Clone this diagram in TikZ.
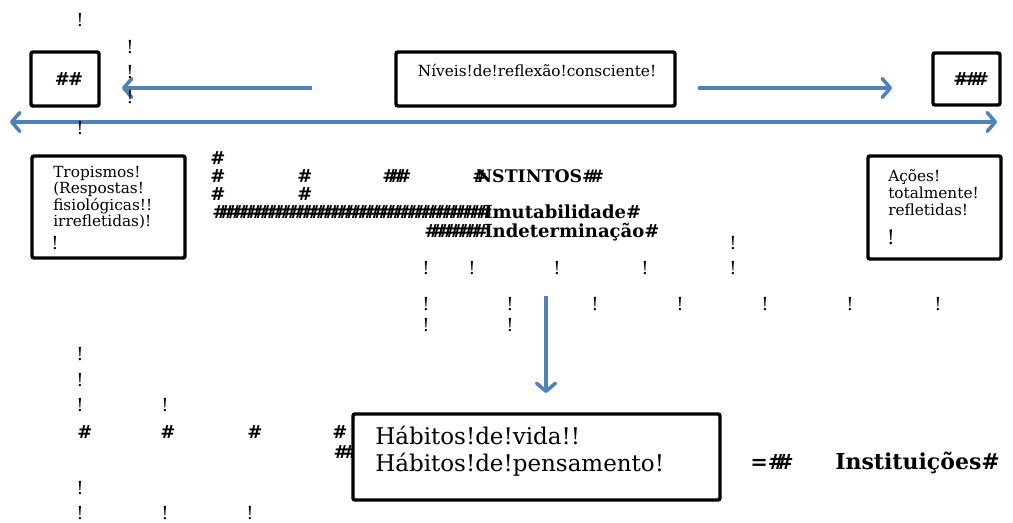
\documentclass[tikz,border=0pt]{standalone}
\usepackage{fontspec}
\setmainfont{DejaVu Serif}
\usetikzlibrary{arrows.meta}
\definecolor{flowblue}{RGB}{79,129,189}
% a run of overlapping hash marks
\newcommand\hashrun[1]{\foreach \k in {1,...,#1}{\#\kern-.45em}}
\tikzset{
  frame/.style={draw=black,line width=2.6pt,rounded corners=1.5pt,fill=white,inner sep=0pt},
  flow/.style={draw=flowblue,line width=2.6pt,-{Straight Barb[length=6pt,width=14pt,round]}},
  flowboth/.style={draw=flowblue,line width=2.6pt,{Straight Barb[length=6pt,width=14pt,round]}-{Straight Barb[length=6pt,width=14pt,round]}},
  flowshade/.style={draw=black,opacity=.15,line width=2.8pt,shift={(1,2.5)}},
  bang/.style={inner sep=0pt,font=\fontsize{13.5pt}{13.5pt}\selectfont},
  hashmark/.style={inner sep=0pt,font=\bfseries\fontsize{13.5pt}{13.5pt}\selectfont},
  boxtext/.style={inner sep=0pt,anchor=base west,align=left},
  rowtext/.style={inner sep=0pt,anchor=base west,font=\bfseries\fontsize{13.5pt}{13.5pt}\selectfont},
}
\begin{document}
\begin{tikzpicture}[x=0.75pt,y=-0.75pt]
\useasboundingbox (0,0) rectangle (1013,523);

% ---- arrow end points ----
\coordinate (backS) at (312,88);  \coordinate (backE) at (122,88);
\coordinate (fwdS)  at (698,88);  \coordinate (fwdE)  at (892,88);
\coordinate (axisL) at (10,122);  \coordinate (axisR) at (997,122);
\coordinate (downS) at (546,296); \coordinate (downE) at (546,393);

% ---- soft shadows under the arrows ----
\draw[flowshade,flow,draw=black] (backS) -- (backE);
\draw[flowshade,flow,draw=black] (fwdS) -- (fwdE);
\draw[flowshade,flowboth,draw=black] (axisL) -- (axisR);
\draw[flowshade,flow,draw=black] (downS) -- (downE);

% ---- blue arrows ----
\draw[flow] (backS) -- (backE);
\draw[flow] (fwdS) -- (fwdE);
\draw[flowboth] (axisL) -- (axisR);
\draw[flow] (downS) -- (downE);

% ---- loose marks, top left ----
\node[bang] (t1) at (80,20) {!};
\node[bang] (t2) at (130,47) {!};
\node[bang] (t3) at (130,72) {!};
\node[bang] (t4) at (130,97) {!};
\node[bang] (t5) at (80,128) {!};

% ---- central rows ----
\node[hashmark] (h1) at (218,158) {\#};
\node[hashmark] (h2) at (218,176) {\#};
\node[hashmark] (h3) at (305,176) {\#};
\node[hashmark] (h4) at (397,176) {\#\kern-.45em\#\kern-.45em\#};
\node[rowtext,font=\bfseries\fontsize{13pt}{13pt}\selectfont] (instintos) at (472,182.5) {\#\kern-.6em NSTINTOS\#\kern-.4em\#};
\node[hashmark] (h5) at (218,194) {\#};
\node[hashmark] (h6) at (305,194) {\#};
\node[rowtext] (band) at (212,218.5) {\hashrun{39}};
\node[rowtext] (imut) at (484,218.5) {Imutabilidade\#};
\node[rowtext] (band2) at (424,237.5) {\hashrun{8}};
\node[rowtext] (indet) at (484,237.5) {Indeterminação\#};

\node[bang] (r0) at (733,243) {!};
\foreach \x [count=\i] in {426,472,557,645,733}
  \node[bang] (ra\i) at (\x,268) {!};
\foreach \x [count=\i] in {426,510,595,680,765,850,938}
  \node[bang] (rb\i) at (\x,304) {!};
\foreach \x [count=\i] in {426,510}
  \node[bang] (rc\i) at (\x,325) {!};

% ---- loose marks, bottom left ----
\node[bang] (u1) at (80,354) {!};
\node[bang] (u2) at (80,380) {!};
\node[bang] (u3) at (80,405) {!};
\node[bang] (u4) at (165,405) {!};
\foreach \x [count=\i] in {85,168,255,340}
  \node[hashmark] (uh\i) at (\x,432) {\#};
\node[hashmark] (uh5) at (346,452) {\#\kern-.3em\#};
\node[bang] (v1) at (80,488) {!};
\foreach \x [count=\i] in {80,165,250}
  \node[bang] (w\i) at (\x,513) {!};

% ---- framed boxes ----
\node[frame,minimum width=51pt,minimum height=40.5pt] (leftbox) at (65,79) {};
\node[hashmark] (leftmark) at (69,79) {\#\kern-.1em\#};

\node[frame,minimum width=209.25pt,minimum height=40.5pt] (levels) at (535.5,79) {};
\node[inner sep=0pt,anchor=base,font=\fontsize{11.5pt}{11.5pt}\selectfont] (levelstext) at (537,77) {Níveis!de!reflexão!consciente!};

\node[frame,minimum width=50.25pt,minimum height=39pt] (rightbox) at (966.5,79) {};
\begin{scope}
  \clip (933,53) rectangle (999,105);
  \node[hashmark,anchor=west] (rightmark) at (953,79) {\#\kern-.55em-\kern-.05em\#\kern-.35em\#};
\end{scope}

% multi-line texts: the base anchor sits on the last line
\node[frame,minimum width=114.75pt,minimum height=76.5pt] (tropbox) at (108.5,207) {};
\node[boxtext,font=\fontsize{11.5pt}{11.1pt}\selectfont] (troptext) at (53,226.5)
  {Tropismos!\\(Respostas!\\fisiológicas!!\\irrefletidas)!};
\node[bang] (tropbang) at (55,243) {!};

\node[frame,minimum width=99.75pt,minimum height=77.25pt] (acoesbox) at (934.5,207.5) {};
\node[boxtext,font=\fontsize{11.5pt}{13.1pt}\selectfont] (acoestext) at (888,216)
  {Ações!\\totalmente!\\refletidas!};
\node[bang,font=\fontsize{15pt}{15pt}\selectfont] (acoesbang) at (891,237) {!};

\node[frame,minimum width=275.25pt,minimum height=64.5pt] (habitos) at (536.5,457) {};
\node[boxtext,font=\fontsize{17.25pt}{20.25pt}\selectfont] (habitostext) at (375,471)
  {Hábitos!de!vida!!\\Hábitos!de!pensamento!};

% ---- result on the right ----
\node[rowtext,font=\bfseries\fontsize{15.75pt}{15.75pt}\selectfont] (equals) at (750,469.5) {=\#\kern-.45em\#};
\node[rowtext,font=\bfseries\fontsize{16.5pt}{16.5pt}\selectfont] (inst) at (835,469.5) {Instituições\#};
\end{tikzpicture}
\end{document}
